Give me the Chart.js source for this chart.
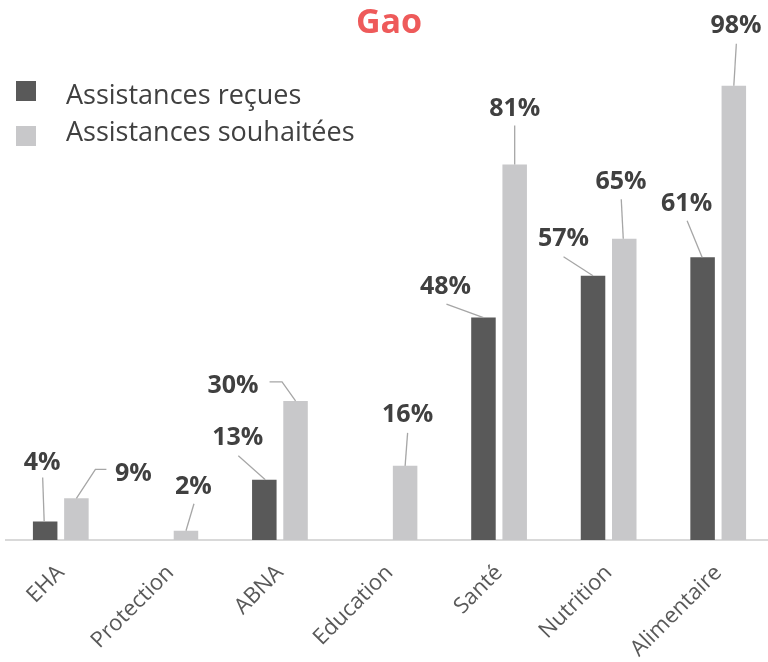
<!DOCTYPE html>
<html>
<head>
<meta charset="utf-8">
<script src="https://cdn.jsdelivr.net/npm/chart.js@4/dist/chart.umd.min.js"></script>
<style>
    body { margin: 0; overflow: hidden; background: #fff; }
    #wrap { position: relative; width: 774px; height: 662px; }
</style>
</head>
<body>
<div id="wrap"><canvas id="GaoChart"></canvas></div>
<script>
// Chart data.
const categories = ['EHA', 'Protection', 'ABNA', 'Education', 'Santé', 'Nutrition', 'Alimentaire'];
const recues = [4, null, 13, null, 48, 57, 61];
const souhaitees = [9, 2, 30, 16, 81, 65, 98];
const seriesNames = ['Assistances reçues', 'Assistances souhaitées'];
const chartTitle = 'Gao';

// Label placement (offsets from the top centre of each bar) and leader lines.
const labelOffsets = [
    [[-3, -60], null, [-26.5, -44], null, [-38, -32.5], [-29.5, -39], [-16, -55]],
    [[57, -26], [7.5, -46], [-62.5, -17], [2.5, -53], [0, -57.5], [-3.3, -58.7], [2.2, -62]]
];
const leaderPaths = [
    [[[-1, 0], [-2.5, -44]], null, [[1, 0], [-26, -24]], null, [[0, 0], [-37, -13.5]], [[0, 0], [-29.5, -19]], [[-0.5, 0], [-15.5, -36.5]]],
    [[[0, 0], [19, -29], [30, -29]], [[0, 0], [8, -27]], [[0, 0], [-13.5, -19], [-26, -19]], [[0, 0], [2.5, -33]], [[0, 0], [0, -39]], [[-1, 0], [-3, -39.5]], [[0, 0], [2.5, -42]]]
];

const FONT = '"Open Sans", "Noto Sans", sans-serif';

// Title, legend and data labels drawn on the canvas.
const decorPlugin = {
    id: 'decor',
    afterDatasetsDraw(chart) {
        const ctx = chart.ctx;
        ctx.save();
        // data labels with leader lines
        chart.data.datasets.forEach((ds, di) => {
            const meta = chart.getDatasetMeta(di);
            meta.data.forEach((bar, i) => {
                const v = ds.data[i];
                if (v === null || v === undefined) return;
                const path = leaderPaths[di][i];
                if (path) {
                    ctx.beginPath();
                    ctx.strokeStyle = '#A6A6A6';
                    ctx.lineWidth = 1.3;
                    path.forEach((p, k) => {
                        const px = bar.x + p[0], py = bar.y + p[1];
                        if (k === 0) ctx.moveTo(px, py); else ctx.lineTo(px, py);
                    });
                    ctx.stroke();
                }
                const off = labelOffsets[di][i];
                ctx.fillStyle = '#404040';
                ctx.font = 'bold 25px ' + FONT;
                ctx.textAlign = 'center';
                ctx.textBaseline = 'alphabetic';
                ctx.fillText(v + '%', bar.x + off[0], bar.y + off[1] + 9);
            });
        });

        // title
        ctx.fillStyle = '#EE5A5A';
        ctx.font = 'bold 34px ' + FONT;
        ctx.textAlign = 'center';
        ctx.fillText(chartTitle, 389, 33);

        // legend
        const boxY = [81, 126];
        const textY = [104, 141];
        chart.data.datasets.forEach((ds, di) => {
            ctx.fillStyle = ds.backgroundColor;
            ctx.fillRect(16, boxY[di], 20, 20);
            ctx.fillStyle = '#404040';
            ctx.font = '27px ' + FONT;
            ctx.textAlign = 'left';
            ctx.fillText(ds.label, 66, textY[di]);
        });
        ctx.restore();
    }
};

const ctx = document.getElementById('GaoChart').getContext('2d');
window.myChart = new Chart(ctx, {
    type: 'bar',
    data: {
        labels: categories,
        datasets: [{
            label: seriesNames[0],
            data: recues,
            backgroundColor: '#595959',
            categoryPercentage: 0.57,
            barPercentage: 0.785
        }, {
            label: seriesNames[1],
            data: souhaitees,
            backgroundColor: '#C8C8CA',
            categoryPercentage: 0.57,
            barPercentage: 0.785
        }]
    },
    options: {
        responsive: true,
        maintainAspectRatio: false,
        animation: false,
        layout: {
            padding: { top: 76.5, left: 6, right: 1, bottom: 0 }
        },
        plugins: {
            legend: { display: false },
            title: { display: false },
            tooltip: { enabled: false }
        },
        scales: {
            x: {
                grid: { display: false },
                border: { color: '#D9D9D9', width: 2 },
                ticks: {
                    color: '#595959',
                    font: { family: FONT, size: 22 },
                    maxRotation: 45,
                    minRotation: 45,
                    padding: 12
                },
                afterFit: function (scale) {
                    scale.height = 122;
                    scale.paddingLeft = 0;
                    scale.paddingRight = 0;
                }
            },
            y: {
                display: false,
                min: 0,
                max: 100
            }
        }
    },
    plugins: [decorPlugin]
});
</script>
</body>
</html>
